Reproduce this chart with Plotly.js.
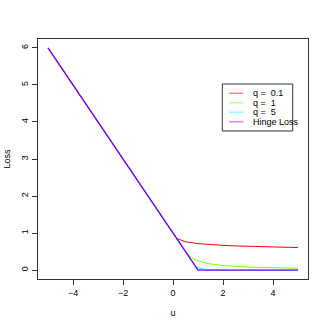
<!DOCTYPE html>
<html>
<head>
<meta charset="utf-8">
<script src="https://cdn.plot.ly/plotly-3.0.1.min.js"></script>
<style>html,body{margin:0;padding:0;background:#fff;}#chart{width:327px;height:327px;}</style>
</head>
<body>
<div id="chart"></div>
<script>
// q = 0.1
const u_q01 = [-5, 0.0909, 0.2, 0.5, 1, 1.5, 2, 2.5, 3, 3.5, 4, 4.5, 5];
const loss_q01 = [6, 0.9091, 0.8402, 0.7666, 0.7153, 0.6868, 0.6674, 0.6526, 0.6409, 0.6310, 0.6227, 0.6154, 0.6090];
// q = 1
const u_q1 = [-5, 0.5, 0.75, 1, 1.25, 1.5, 2, 2.5, 3, 3.5, 4, 4.5, 5];
const loss_q1 = [6, 0.5, 0.3333, 0.25, 0.2, 0.1667, 0.125, 0.1, 0.0833, 0.0714, 0.0625, 0.0556, 0.05];
// q = 5
const u_q5 = [-5, 0.8333, 0.9, 1, 1.1, 1.2, 1.4, 1.6, 2, 3, 4, 5];
const loss_q5 = [6, 0.1667, 0.1134, 0.0670, 0.0416, 0.0269, 0.0125, 0.0064, 0.0021, 0.0003, 0.0001, 0.0000];
// Hinge loss
const u_hinge = [-5, 1, 5];
const loss_hinge = [6, 0, 0];

const seriesNames = ["q =  0.1", "q =  1", "q =  5", "Hinge Loss"];
const seriesColors = ["#FF0000", "#80FF00", "#00FFFF", "#8000FF"];
const lineWidths = [1, 1, 1, 1.4];
const xTicks = [-4, -2, 0, 2, 4];
const yTicks = [0, 1, 2, 3, 4, 5, 6];

const xs = [u_q01, u_q1, u_q5, u_hinge];
const ys = [loss_q01, loss_q1, loss_q5, loss_hinge];
const traces = xs.map((x, i) => ({
  x: x, y: ys[i], type: 'scatter', mode: 'lines', name: seriesNames[i],
  line: {color: seriesColors[i], width: lineWidths[i]}, showlegend: false
}));

const font = {family: 'Liberation Sans, Arial, sans-serif', size: 9, color: '#000'};

// R-style legend box drawn with shapes + annotations (paper coords)
const legBox = {x0: 0.6826, x1: 0.9433, y0: 0.6167, y1: 0.8125};
const legLineX = [0.7074, 0.7604];
const legTextX = 0.7878;
const legRowY = [0.7738, 0.7346, 0.6946, 0.6554];

const shapes = [{
  type: 'rect', xref: 'paper', yref: 'paper',
  x0: legBox.x0, x1: legBox.x1, y0: legBox.y0, y1: legBox.y1,
  line: {color: '#333', width: 1}, fillcolor: '#fff', layer: 'above'
}];
const annotations = [];
seriesNames.forEach((name, i) => {
  shapes.push({
    type: 'line', xref: 'paper', yref: 'paper',
    x0: legLineX[0], x1: legLineX[1], y0: legRowY[i], y1: legRowY[i],
    line: {color: seriesColors[i], width: 1.5}, opacity: 0.45, layer: 'above'
  });
  annotations.push({
    xref: 'paper', yref: 'paper', x: legTextX, y: legRowY[i],
    xanchor: 'left', yanchor: 'middle', text: name, showarrow: false,
    font: {family: font.family, size: 9, color: '#000'}
  });
});

const layout = {
  width: 327, height: 327,
  margin: {l: 38, r: 19, t: 39, b: 48},
  paper_bgcolor: '#fff', plot_bgcolor: '#fff',
  font: font,
  showlegend: false,
  shapes: shapes,
  annotations: annotations,
  xaxis: {
    range: [-5.4, 5.4], tickvals: xTicks, ticktext: xTicks.map(v => v < 0 ? '\u2212' + Math.abs(v) : String(v)),
    ticks: 'outside', ticklen: 5, tickcolor: '#333', tickwidth: 1,
    showline: true, linecolor: '#333', linewidth: 1, mirror: true,
    showgrid: false, zeroline: false,
    title: {text: 'u', font: font, standoff: 12}
  },
  yaxis: {
    range: [-0.24, 6.24], tickvals: yTicks, tickangle: -90,
    ticks: 'outside', ticklen: 5, tickcolor: '#333', tickwidth: 1,
    showline: true, linecolor: '#333', linewidth: 1, mirror: true,
    showgrid: false, zeroline: false,
    title: {text: 'Loss', font: font, standoff: 8}
  }
};
Plotly.newPlot('chart', traces, layout, {displayModeBar: false, staticPlot: true});
</script>
</body>
</html>
